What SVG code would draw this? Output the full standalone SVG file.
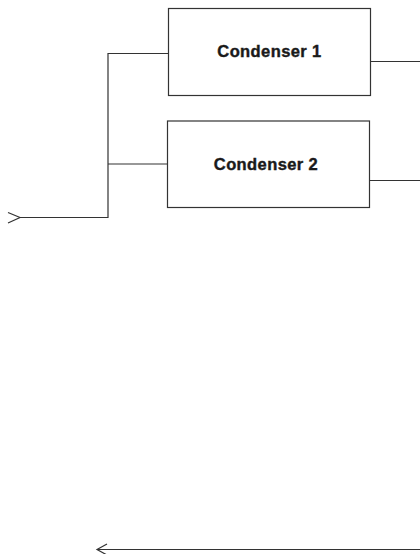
<svg xmlns="http://www.w3.org/2000/svg" width="420" height="554" viewBox="0 0 420 554">
<style>
.box{fill:#fff;stroke:#333;stroke-width:1.2}
.ln{fill:none;stroke:#333;stroke-width:1.2}
.lbl{font-family:"Liberation Sans",Arial,sans-serif;font-weight:bold;font-size:16.5px;letter-spacing:0.4px;fill:#1a1a1a;stroke:#1a1a1a;stroke-width:0.4;text-anchor:middle}
</style>
<rect width="420" height="554" fill="#fff"/>
<g id="connectors">
<path class="ln" d="M20,217.5 H108 V53.5 H168.5"/>
<path class="ln" d="M108,164 H167.5"/>
<path class="ln" d="M8,212.5 L20,217.5 L8,223"/>
<path class="ln" d="M370.5,61.5 H420"/>
<path class="ln" d="M369.5,180.5 H420"/>
<path class="ln" d="M420,549.5 H97"/>
<path class="ln" d="M107,544 L97,549.5 L107,555"/>
</g>
<g id="condenser1">
<rect class="box" x="168.5" y="8.5" width="202" height="87"/>
<text class="lbl" x="269.5" y="57">Condenser 1</text>
</g>
<g id="condenser2">
<rect class="box" x="167.5" y="121" width="202" height="86.5"/>
<text class="lbl" x="266" y="170">Condenser 2</text>
</g>
</svg>
